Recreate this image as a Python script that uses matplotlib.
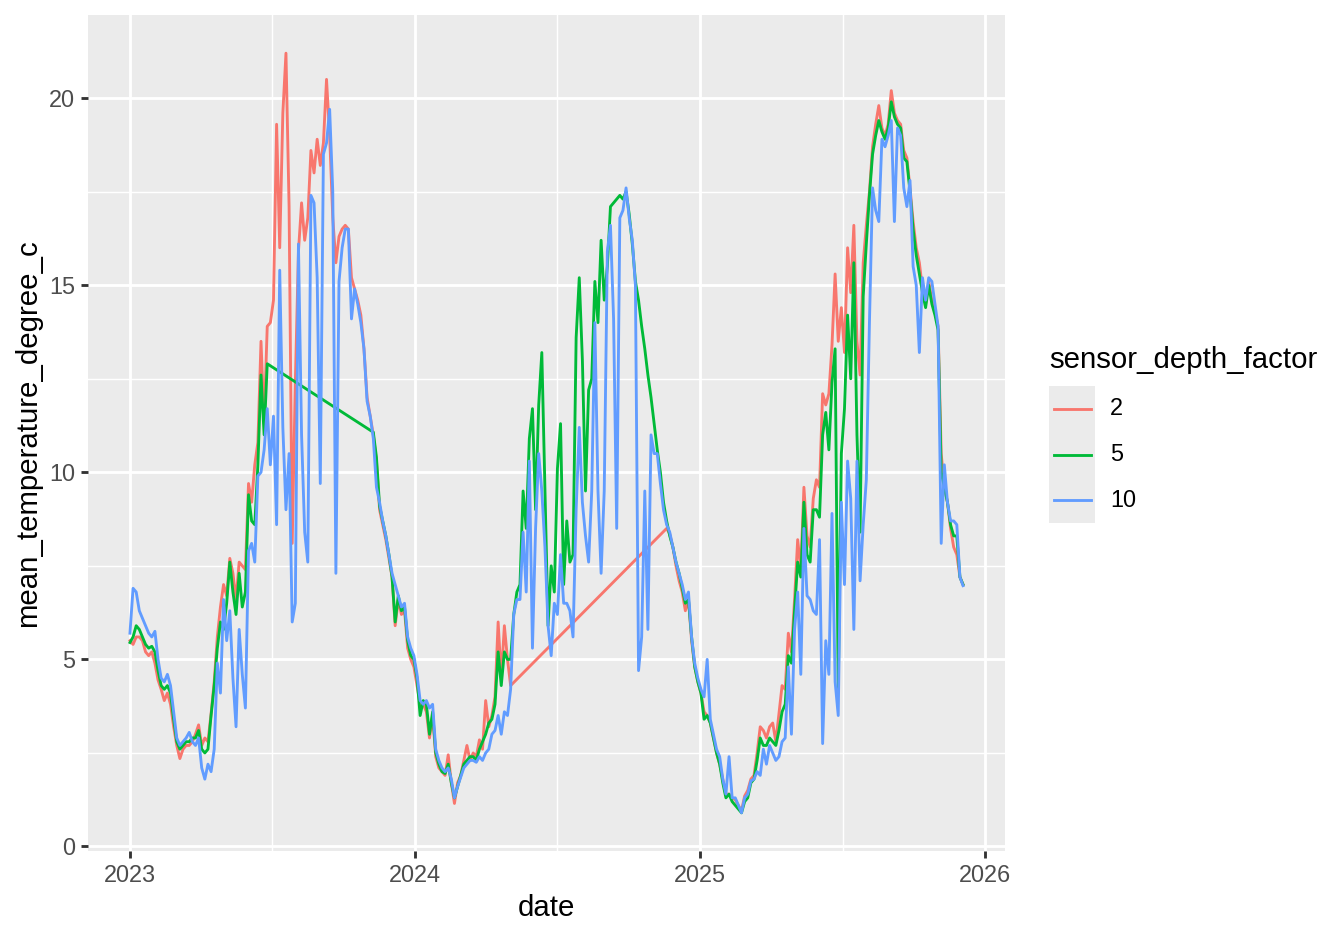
import numpy as np
import pandas as pd
import matplotlib
matplotlib.use("Agg")
import matplotlib.pyplot as plt
import matplotlib.dates as mdates
import matplotlib.ticker as mticker
from matplotlib.patches import Rectangle
from matplotlib.lines import Line2D

plt.rcParams["font.family"] = ["Liberation Sans", "DejaVu Sans"]

# ===============================
# Data: mean temperature, read every 4 days from 2023-01-01
# (nan = no logger data for that sensor)
# ===============================
nan = np.nan
start_date = "2023-01-01"
step = "4D"

temp_2m = [
    5.5, 5.4, 5.6, 5.6, 5.5, 5.2, 5.1, 5.2, 4.9, 4.45,
    4.2, 3.9, 4.1, 3.8, 3.2, 2.7, 2.35, 2.6, 2.7, 2.7,
    2.8, 3.0, 3.25, 2.7, 2.9, 2.8, 3.55, 4.4, 5.6, 6.4,
    7.0, 6.7, 7.7, 7.3, 6.6, 7.6, 7.5, 7.4, 9.7, 9.2,
    10.2, 10.8, 13.5, 11.3, 13.9, 14.0, 14.6, 19.3, 16.0, 19.6,
    21.2, 17.1, 8.1, 12.4, 15.9, 17.2, 16.2, 16.8, 18.6, 18.0,
    18.9, 18.2, 18.8, 20.5, 19.0, 16.8, 15.6, 16.3, 16.5, 16.6,
    16.5, 15.2, 14.9, 14.6, 14.2, 13.3, 12.0, 11.5, 11.0, 10.3,
    9.0, 8.6, 8.2, 7.7, 7.2, 5.9, 6.6, 6.2, 6.3, 5.3,
    5.0, 4.8, 4.3, 3.8, 3.8, 3.6, 2.9, 3.5, 2.4, 2.1,
    2.0, 1.9, 2.45, 1.7, 1.15, 1.7, 1.9, 2.3, 2.7, 2.3,
    2.5, 2.4, 2.85, 2.6, 3.9, 3.2, 3.5, 4.0, 6.0, 4.5,
    5.9, 5.0, 4.3, nan, nan, nan, nan, nan, nan, nan,
    nan, nan, nan, nan, nan, nan, nan, nan, nan, nan,
    nan, nan, nan, nan, nan, nan, nan, nan, nan, nan,
    nan, nan, nan, nan, nan, nan, nan, nan, nan, nan,
    nan, nan, nan, nan, nan, nan, nan, nan, nan, nan,
    nan, nan, 8.5, 8.35, 8.0, 7.5, 7.1, 6.8, 6.3, 6.6,
    5.5, 4.8, 4.4, 4.1, 3.6, 3.5, 3.3, 2.9, 2.5, 2.2,
    1.8, 1.4, 1.4, 1.3, 1.25, 1.1, 0.95, 1.35, 1.5, 1.8,
    1.9, 2.5, 3.2, 3.1, 2.9, 3.2, 3.3, 2.8, 3.55, 4.3,
    4.2, 5.7, 5.2, 6.6, 8.2, 7.4, 9.6, 8.3, 8.0, 9.3,
    9.8, 9.6, 12.1, 11.8, 12.1, 13.4, 15.3, 13.5, 14.4, 13.2,
    16.0, 14.8, 16.6, 13.5, 12.6, 15.6, 16.6, 17.5, 18.7, 19.3,
    19.8, 19.2, 19.0, 19.3, 20.2, 19.6, 19.4, 19.3, 18.6, 18.4,
    17.6, 16.7, 16.0, 15.6, 14.9, 14.5, 15.1, 14.6, 14.3, 13.9,
    10.5, 9.6, 9.2, 8.5, 8.0, 7.8, 7.2, 7.0,
]

temp_5m = [
    5.45, 5.6, 5.9, 5.8, 5.6, 5.4, 5.3, 5.35, 5.2, 4.7,
    4.3, 4.2, 4.3, 4.1, 3.4, 2.8, 2.6, 2.7, 2.8, 2.8,
    2.9, 2.9, 3.1, 2.6, 2.5, 2.6, 3.5, 4.3, 5.3, 6.0,
    5.8, 6.5, 7.6, 6.8, 6.2, 7.3, 6.4, 6.8, 9.4, 8.7,
    8.6, 10.2, 12.6, 11.0, 12.9, nan, nan, nan, nan, nan,
    nan, nan, nan, nan, nan, nan, nan, nan, nan, nan,
    nan, nan, nan, nan, nan, nan, nan, nan, nan, nan,
    nan, nan, nan, nan, nan, nan, nan, nan, 11.07, 10.4,
    9.1, 8.7, 8.3, 7.8, 7.2, 6.0, 6.7, 6.3, 6.4, 5.5,
    5.1, 5.0, 4.5, 3.5, 3.9, 3.8, 3.0, 3.6, 2.5, 2.2,
    2.0, 1.95, 2.2, 1.7, 1.3, 1.6, 1.9, 2.2, 2.3, 2.4,
    2.4, 2.3, 2.6, 2.8, 3.0, 3.3, 3.4, 3.8, 5.2, 4.3,
    5.2, 5.0, 5.0, 6.2, 6.8, 7.0, 9.5, 8.5, 10.9, 11.7,
    9.0, 11.8, 13.2, 9.5, 5.9, 7.5, 6.8, 10.1, 11.3, 7.0,
    8.7, 7.6, 7.8, 13.6, 15.2, 13.0, 9.5, 12.2, 12.5, 15.1,
    14.0, 16.2, 14.6, 15.5, 17.1, 17.2, 17.3, 17.4, 17.3, 17.5,
    16.9, 16.1, 15.1, 14.6, 13.9, 13.3, 12.6, 12.0, 11.3, 10.6,
    10.0, 9.2, 8.7, 8.3, 8.0, 7.6, 7.3, 6.9, 6.5, 6.6,
    5.6, 4.8, 4.4, 4.1, 3.4, 3.5, 3.3, 2.9, 2.5, 2.2,
    1.7, 1.3, 1.4, 1.2, 1.1, 1.0, 0.9, 1.2, 1.3, 1.7,
    1.8, 2.3, 2.9, 2.7, 2.7, 2.9, 2.8, 2.7, 3.1, 3.6,
    3.8, 5.1, 4.9, 6.3, 7.6, 7.2, 9.2, 7.8, 7.6, 9.0,
    9.0, 8.8, 11.0, 11.6, 10.6, 12.4, 13.3, 4.2, 10.5, 11.7,
    14.2, 12.5, 15.6, 11.0, 8.4, 14.7, 16.1, 17.4, 18.5, 19.0,
    19.4, 19.1, 18.9, 19.2, 19.9, 19.5, 19.3, 19.2, 18.4, 18.3,
    17.5, 16.5, 15.8, 15.3, 14.8, 14.4, 15.0, 14.5, 14.2, 13.8,
    10.0, 9.6, 9.2, 8.6, 8.3, 8.3, 7.2, 7.0,
]

temp_10m = [
    5.7, 6.9, 6.8, 6.3, 6.1, 5.9, 5.7, 5.6, 5.75, 5.0,
    4.5, 4.4, 4.6, 4.3, 3.6, 2.9, 2.7, 2.8, 2.9, 3.05,
    2.8, 2.7, 2.9, 2.1, 1.8, 2.2, 2.0, 2.6, 4.9, 4.1,
    6.6, 5.5, 6.3, 4.5, 3.2, 5.8, 4.6, 3.7, 7.9, 8.1,
    7.6, 9.9, 10.0, 10.6, 11.7, 10.2, 11.5, 8.6, 15.4, 11.2,
    9.0, 10.5, 6.0, 6.5, 16.1, 11.0, 8.4, 7.6, 17.4, 17.2,
    15.2, 9.7, 18.5, 18.8, 19.7, 17.5, 7.3, 15.1, 16.0, 16.5,
    16.5, 14.1, 14.9, 14.5, 14.0, 13.3, 11.9, 11.5, 10.9, 9.6,
    9.2, 8.7, 8.3, 7.8, 7.3, 7.0, 6.7, 6.4, 6.5, 5.6,
    5.3, 5.1, 4.6, 3.9, 3.8, 3.9, 3.7, 3.8, 2.6, 2.3,
    2.1, 2.0, 2.1, 1.8, 1.3, 1.6, 1.85, 2.1, 2.2, 2.3,
    2.3, 2.25, 2.4, 2.3, 2.5, 2.6, 3.0, 3.1, 3.5, 3.0,
    3.6, 3.5, 4.2, 6.2, 6.6, 6.6, 8.4, 6.8, 10.3, 5.3,
    8.5, 10.5, 9.5, 8.0, 5.9, 5.1, 6.5, 6.2, 7.8, 6.5,
    6.5, 6.3, 5.6, 9.0, 11.2, 9.2, 8.3, 7.6, 9.5, 14.0,
    9.5, 7.3, 9.5, 15.9, 16.6, 14.1, 8.5, 16.8, 17.0, 17.6,
    16.8, 16.2, 15.0, 4.7, 5.6, 9.5, 5.8, 11.0, 10.5, 10.5,
    9.7, 9.0, 8.6, 8.4, 8.0, 7.6, 7.3, 7.0, 6.6, 6.8,
    5.6, 4.9, 4.5, 4.2, 4.0, 5.0, 3.4, 3.0, 2.6, 2.4,
    1.8, 1.4, 2.4, 1.3, 1.3, 1.1, 0.9, 1.3, 1.4, 1.75,
    1.8, 2.0, 1.9, 2.6, 2.2, 2.7, 2.5, 2.3, 2.4, 2.8,
    2.9, 4.8, 3.0, 5.8, 6.8, 4.6, 8.5, 6.7, 6.6, 6.3,
    6.2, 8.2, 2.75, 5.5, 4.6, 8.9, 4.4, 3.5, 9.2, 7.0,
    10.3, 9.3, 5.8, 10.3, 7.1, 8.6, 9.8, 14.0, 17.6, 17.0,
    16.7, 18.9, 18.7, 19.0, 19.4, 16.7, 19.2, 19.0, 17.6, 17.1,
    17.8, 15.5, 15.0, 13.2, 15.2, 14.6, 15.2, 15.1, 14.5, 13.9,
    8.1, 10.2, 9.2, 8.7, 8.7, 8.6, 7.2, 6.97,
]

depth_labels = ["2", "5", "10"]
depth_colors = ["#F8766D", "#00BA38", "#619CFF"]
minor_x = ["2023-07-02 12:00", "2024-07-02 00:00", "2025-07-02 12:00"]
minor_y = [2.5, 7.5, 12.5, 17.5]

dates = pd.date_range(start_date, periods=len(temp_2m), freq=step)
series = [pd.Series(v, index=dates).dropna() for v in (temp_2m, temp_5m, temp_10m)]

# ===============================
# Figure (ggplot2 theme_grey look)
# ===============================
W, H = 1344, 940
fig = plt.figure(figsize=(W / 192, H / 192), dpi=192)
ax = fig.add_axes([88.3 / W, 1 - 850.8 / H, (1004.7 - 88.3) / W, (850.8 - 15.2) / H])
ax.set_facecolor("#EBEBEB")
for s in ax.spines.values():
    s.set_visible(False)

for s, c in zip(series, depth_colors):
    ax.plot(s.index, s.values, color=c, linewidth=1.07, zorder=3)

ax.margins(x=0.05, y=0.05)

# grid
ax.xaxis.set_major_locator(mdates.YearLocator())
ax.xaxis.set_major_formatter(mdates.DateFormatter("%Y"))
ax.xaxis.set_minor_locator(mticker.FixedLocator(mdates.date2num(pd.to_datetime(minor_x))))
ax.yaxis.set_major_locator(mticker.MultipleLocator(5))
ax.yaxis.set_minor_locator(mticker.FixedLocator(minor_y))
ax.grid(which="major", color="white", linewidth=1.07, zorder=0)
ax.grid(which="minor", color="white", linewidth=0.53, zorder=0)
ax.set_axisbelow(True)

ax.tick_params(which="major", length=2.75, width=1.07, color="#333333",
               labelcolor="#4D4D4D", labelsize=8.8, pad=2.2)
ax.tick_params(which="minor", length=0)

ax.set_xlabel("date", fontsize=11, labelpad=2.75)
ax.set_ylabel("mean_temperature_degree_c", fontsize=11, labelpad=2.75)

# ===============================
# Legend (drawn like ggplot's guide)
# ===============================
fig.text(1049 / W, 1 - 368 / H, "sensor_depth_factor", fontsize=11, va="baseline", ha="left")
fig.patches.append(Rectangle((1049 / W, 1 - 523 / H), 46 / W, 137 / H,
                             transform=fig.transFigure, facecolor="#EBEBEB",
                             edgecolor="none"))
for i, (lab, c) in enumerate(zip(depth_labels, depth_colors)):
    yc = 1 - (408.8 + i * 45.7) / H
    fig.lines.append(Line2D([1054 / W, 1091 / W], [yc, yc], transform=fig.transFigure,
                            color=c, linewidth=1.07))
    fig.text(1110 / W, yc, lab, fontsize=8.8, va="center", ha="left")

fig.savefig("out.png", dpi=192, facecolor="white")
